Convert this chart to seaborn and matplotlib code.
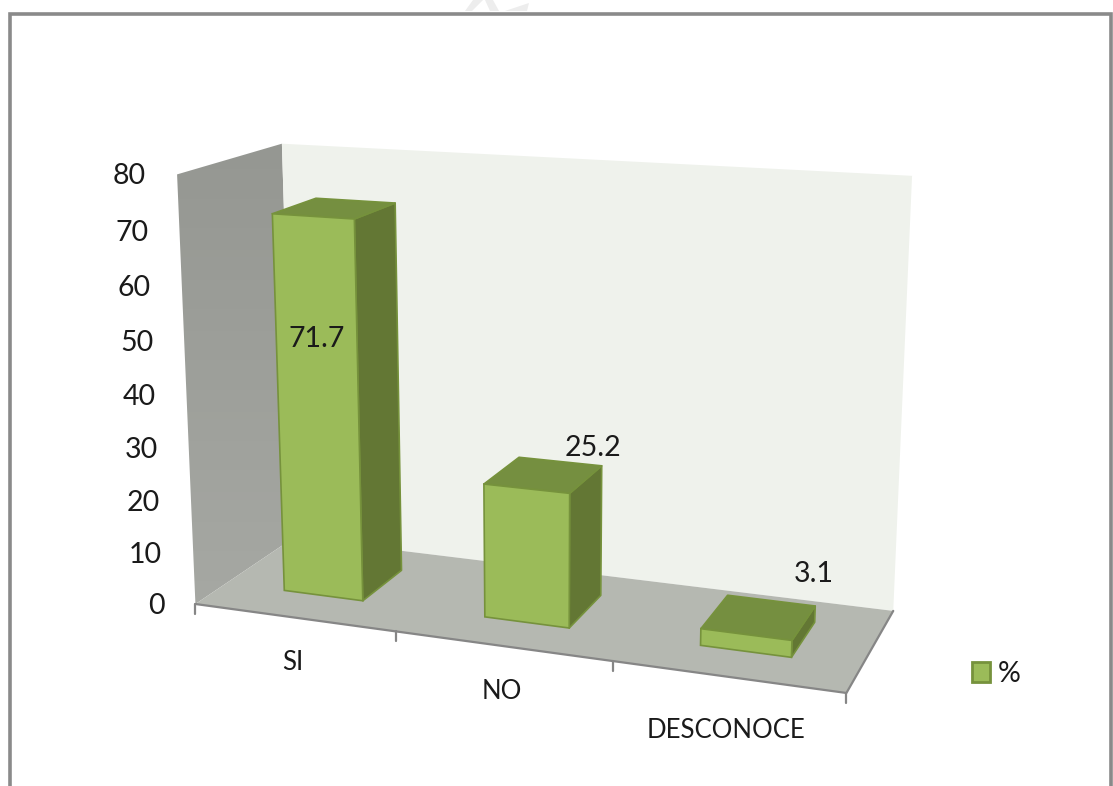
import numpy as np
import pandas as pd
import matplotlib
matplotlib.use("Agg")
import matplotlib.pyplot as plt
import seaborn as sns
from matplotlib.patches import Polygon, Patch
from matplotlib.transforms import Transform

categories = ["SI", "NO", "DESCONOCE"]
values = [71.7, 25.2, 3.1]
y_ticks = [0, 10, 20, 30, 40, 50, 60, 70, 80]
series_name = "%"

FRONT_GREEN = "#9BBB59"
SIDE_GREEN = "#637734"
TOP_GREEN = "#758F40"
EDGE_GREEN = "#76923C"
FLOOR = "#B5B8B1"
BACK_WALL = "#EFF2EC"
AXIS_GREY = "#868686"

BAR_WIDTH = 0.40
BAR_SHIFT = 0.50
DEPTH_FRONT = 0.30
DEPTH_BACK = 0.74

# calibracion de la perspectiva: (categoria, profundidad, valor) -> pixel
world = np.array([
    [0, 0, 0], [0, 0, 80], [0, 1, 0], [0, 1, 80],
    [3, 1, 0], [3, 1, 80], [3, 0, 0], [1, 0, 0], [2, 0, 0],
], dtype=float)
pixels = np.array([
    [195, 603], [177, 175], [294, 539], [282, 143],
    [893, 610], [912, 176], [847, 694], [397, 631], [612, 661],
], dtype=float)


def fit_camera(world, pixels):
    rows, rhs = [], []
    for (X, Y, Z), (px, py) in zip(world, pixels):
        rows.append([X, Y, Z, 1, 0, 0, 0, 0, -px * X, -px * Y, -px * Z])
        rows.append([0, 0, 0, 0, X, Y, Z, 1, -py * X, -py * Y, -py * Z])
        rhs += [px, py]
    p = np.linalg.lstsq(np.array(rows), np.array(rhs), rcond=None)[0]
    return np.append(p, 1).reshape(3, 4)


CAMERA = fit_camera(world, pixels)


def project(u, d, h):
    u, d, h = [np.atleast_1d(np.asarray(a, dtype=float)) for a in (u, d, h)]
    pts = np.column_stack([u, d, h, np.ones_like(u)])
    res = pts @ CAMERA.T
    return res[:, :2] / res[:, 2:]


class FrontFace(Transform):
    # lleva las barras de seaborn (x, valor) al plano frontal en perspectiva
    input_dims = 2
    output_dims = 2

    def transform_non_affine(self, values):
        values = np.asarray(values, dtype=float)
        return project(values[:, 0] + BAR_SHIFT, np.full(len(values), DEPTH_FRONT), values[:, 1])


def face(ax, u, d, h, color, zorder):
    ax.add_patch(Polygon(project(u, d, h), closed=True, facecolor=color, edgecolor=EDGE_GREEN,
                         linewidth=1.2, joinstyle="round", zorder=zorder))


sns.set_theme(style="white")
plt.rcParams["font.family"] = ["Lato", "DejaVu Sans"]

data = pd.DataFrame({"categoria": categories, "valor": values})
fig, ax = plt.subplots(figsize=(11.13, 7.86), dpi=100)
fig.subplots_adjust(left=0, right=1, bottom=0, top=1)

sns.barplot(data=data, x="categoria", y="valor", ax=ax, width=BAR_WIDTH, color=FRONT_GREEN,
            saturation=1, edgecolor=EDGE_GREEN, linewidth=1.2)
bars = list(ax.patches)

# pared izquierda con degradado
left_wall = Polygon(project([0, 0, 0, 0], [0, 1, 1, 0], [0, 0, 80, 80]), closed=True,
                    facecolor="none", edgecolor="none", transform=ax.transData)
ax.add_patch(left_wall)
grad = ax.imshow(np.linspace(0, 1, 64).reshape(-1, 1), extent=(170, 300, 610, 140), aspect="auto",
                 cmap=matplotlib.colors.LinearSegmentedColormap.from_list("pared", ["#959792", "#A6A8A3"]),
                 zorder=1)
grad.set_clip_path(left_wall)

ax.set_xlim(0, 1113)
ax.set_ylim(786, 0)
ax.axis("off")

# pared del fondo y piso
ax.add_patch(Polygon(project([0, 3, 3, 0], [1, 1, 1, 1], [0, 0, 80, 80]), closed=True,
                     facecolor=BACK_WALL, edgecolor="none", zorder=1))
ax.add_patch(Polygon(project([0, 3, 3, 0], [0, 0, 1, 1], [0, 0, 0, 0]), closed=True,
                     facecolor=FLOOR, edgecolor="none", zorder=1.5))
edge = project([0, 3, 3], [0, 0, 1], [0, 0, 0])
ax.plot(edge[:, 0], edge[:, 1], color=AXIS_GREY, lw=1.6, zorder=2)

# marcas del eje x
for i in range(len(categories) + 1):
    tick = project(i, 0, 0)[0]
    ax.plot([tick[0], tick[0]], [tick[1], tick[1] + 10], color=AXIS_GREY, lw=1.6, zorder=2)

# barras en 3D
for bar in bars:
    u0 = bar.get_x() + BAR_SHIFT
    u1 = u0 + bar.get_width()
    v = bar.get_height()
    df, db = DEPTH_FRONT, DEPTH_BACK
    face(ax, [u1, u1, u1, u1], [df, db, db, df], [0, 0, v, v], SIDE_GREEN, 3)
    face(ax, [u0, u1, u1, u0], [df, df, db, db], [v, v, v, v], TOP_GREEN, 3)
    bar.set_transform(FrontFace() + ax.transData)
    bar.set_zorder(4)
    bar.set_clip_on(False)

# etiquetas del eje y
for t in y_ticks:
    p = project(0, 0, t)[0]
    ax.text(p[0] - 31, p[1] + 2, str(t), ha="right", va="center", fontsize=20.5, color="#1a1a1a")

# etiquetas del eje x
x_label_drop = [45, 46, 54]
for i, name in enumerate(categories):
    p = project(i + 0.5, 0, 0)[0]
    ax.text(p[0] - 1, p[1] + x_label_drop[i], name, ha="center", va="center", fontsize=18.5, color="#1a1a1a")

# etiquetas de datos
label_pos = [(317, 339), (593, 448), (814, 574)]
for (lx, ly), v in zip(label_pos, values):
    ax.text(lx, ly, f"{v}", ha="center", va="center", fontsize=20.5, color="#1a1a1a", zorder=6)

ax.legend(handles=[Patch(facecolor=FRONT_GREEN, edgecolor=EDGE_GREEN, linewidth=2, label=series_name)],
          loc="center left", bbox_to_anchor=(972 / 1113, 1 - 674 / 786), frameon=False, fontsize=20.5,
          handlelength=0.62, handleheight=0.72, handletextpad=0.3, borderpad=0, borderaxespad=0,
          labelcolor="#1a1a1a")

# sello de agua cortado arriba y marco exterior
for shape in [[(473, 0), (483, 0), (472, 11), (465, 11)],
              [(485, 0), (493, 0), (499, 11), (490, 11)],
              [(505, 11), (529, 3), (527, 11)]]:
    ax.add_patch(Polygon(shape, closed=True, facecolor="#EDEDED", edgecolor="none", zorder=0.5))
ax.plot([9.5, 9.5, 1110.5, 1110.5], [786, 13.5, 13.5, 786], color="#8A8A8A", lw=2.6, zorder=7,
        solid_joinstyle="miter")

fig.savefig("out.png", dpi=100)
